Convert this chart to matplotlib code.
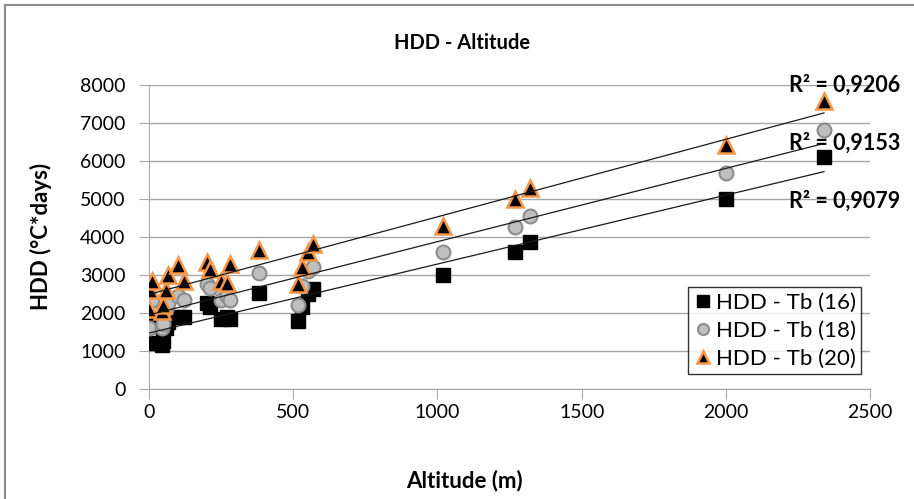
import numpy as np
import matplotlib
matplotlib.use("Agg")
import matplotlib.pyplot as plt
from matplotlib.patches import Rectangle

plt.rcParams["font.family"] = ["Lato", "DejaVu Sans"]

# station altitude (m) and heating degree days for three base temperatures
altitude = [0, 5, 10, 45, 50, 60, 65, 100, 120, 200, 210, 250, 270, 280,
            380, 515, 530, 550, 570, 1020, 1270, 1320, 2000, 2340]
hdd_16 = [1200, 1650, 1850, 1150, 1250, 1600, 1750, 1900, 1900, 2250, 2150, 1850,
          1900, 1850, 2530, 1780, 2150, 2500, 2620, 3000, 3600, 3870, 5000, 6100]
hdd_18 = [1600, 2100, 2350, 1600, 1700, 2100, 2250, 2450, 2350, 2750, 2650, 2350,
          2450, 2350, 3050, 2200, 2700, 3100, 3200, 3600, 4250, 4550, 5680, 6800]
hdd_20 = [2100, 2600, 2850, 2050, 2200, 2600, 3000, 3250, 2850, 3330, 3150, 2850,
          2800, 3300, 3650, 2750, 3200, 3600, 3820, 4290, 5000, 5290, 6420, 7580]
r2_labels = ["R² = 0,9206", "R² = 0,9153", "R² = 0,9079"]
r2_pos = [(2220, 8000), (2220, 6470), (2220, 4950)]

fig = plt.figure(figsize=(9.14, 4.99), dpi=100)
fig.patches.append(Rectangle((0.006, -0.01), 1.1, 1.0, transform=fig.transFigure,
                             fill=False, edgecolor="#8c8c8c", lw=1.5))
ax = fig.add_axes([0.163, 0.2204, 0.789, 0.6096])

x = np.array(altitude)
series = [
    (hdd_16, dict(marker="s", color="black", markeredgecolor="black", markersize=10), "HDD - Tb (16)"),
    (hdd_18, dict(marker="o", color="#bfbfbf", markeredgecolor="#8c8c8c", markersize=10,
                  markeredgewidth=1.5), "HDD - Tb (18)"),
    (hdd_20, dict(marker="^", color="black", markeredgecolor="#f79646", markersize=11,
                  markeredgewidth=1.8), "HDD - Tb (20)"),
]
for vals, style, label in series:
    ax.plot(x, vals, linestyle="none", label=label, zorder=3, **style)

# linear trendlines
xs = np.array([0, max(altitude)])
for vals, _, _ in series:
    k, b = np.polyfit(x, vals, 1)
    ax.plot(xs, k * xs + b, color="#1a1a1a", lw=0.9, zorder=4)

for txt, (tx, ty) in zip(r2_labels, r2_pos):
    ax.text(tx, ty, txt, fontsize=15.5, fontweight="bold", va="center", ha="left",
            clip_on=False, zorder=5)

ax.set_xlim(0, 2500)
ax.set_ylim(0, 8000)
ax.set_xticks(range(0, 2501, 500))
ax.set_yticks(range(0, 8001, 1000))
ax.grid(axis="y", color="#a6a6a6", lw=1)
ax.set_axisbelow(True)
for s in ["top", "right"]:
    ax.spines[s].set_visible(False)
ax.spines["left"].set_color("#a6a6a6")
ax.spines["bottom"].set_color("#a6a6a6")
ax.tick_params(colors="#a6a6a6", labelcolor="black", labelsize=14, length=7)
ax.tick_params(axis="y", pad=10)

# title and x label are centred on the whole chart, as in Excel
fig.text(0.505, 0.914, "HDD - Altitude", fontsize=14.5, fontweight="bold",
         ha="center", va="center")
fig.text(0.508, 0.038, "Altitude (m)", fontsize=16, fontweight="bold",
         ha="center", va="center")
ax.set_ylabel("HDD (°C*days)", fontsize=16, fontweight="bold", labelpad=20)

leg = ax.legend(loc="lower right", fontsize=16, frameon=True, fancybox=False,
                edgecolor="black", handletextpad=0.1, handlelength=0.9,
                borderpad=0.25, labelspacing=0.35, markerscale=0.8,
                bbox_to_anchor=(1.003, 0.013))
leg.get_frame().set_linewidth(1.0)

fig.savefig("out.png", dpi=100)
